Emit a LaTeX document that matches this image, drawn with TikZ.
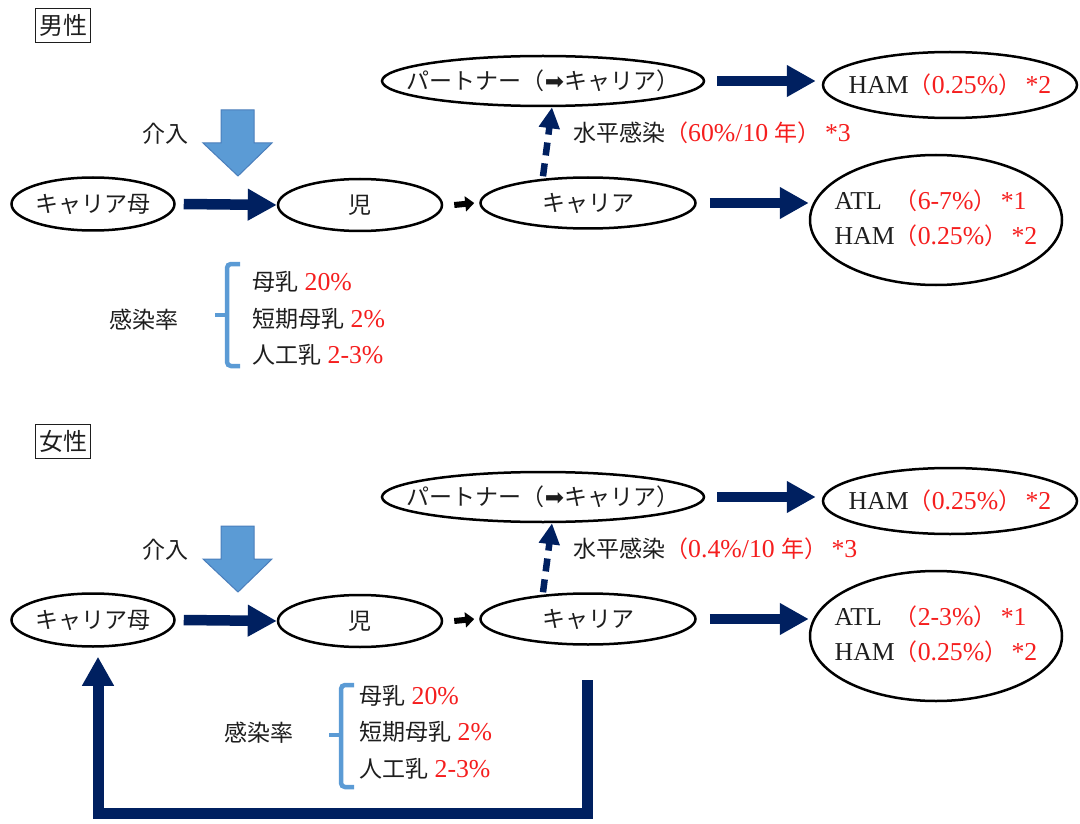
\documentclass[tikz,border=0pt]{standalone}
\usepackage{fontspec}
\setmainfont{Liberation Serif}[Scale=1.12]
\newfontfamily\jp{Noto Sans CJK JP}
\newfontfamily\sym{DejaVu Sans}
\usetikzlibrary{arrows.meta,shapes.geometric}

\definecolor{navy}{HTML}{002060}
\definecolor{lblue}{HTML}{5B9BD5}
\definecolor{bluedge}{HTML}{4A7EBB}
\definecolor{rate}{HTML}{F51E1E}
\definecolor{ink}{HTML}{1E1E1E}

\newcommand\rd[1]{\textcolor{rate}{#1}}
\newcommand\inoval[1]{\makebox[0pt]{#1}}

\begin{document}
\begin{tikzpicture}[x=1pt, y=-1pt,
  every node/.style={font=\fontsize{23}{35}\selectfont, text=ink},
  oval/.style={ellipse, draw=black, line width=2.5pt, inner sep=0pt},
  txt/.style={inner sep=0pt},
  title/.style={draw=ink, line width=1pt, inner xsep=3.5pt, inner ysep=6pt,
                font=\jp\fontsize{24}{26}\selectfont},
  bigarr/.style={draw=navy, line width=10.5pt, -{Triangle[width=30pt,length=29pt]}},
  dasharr/.style={draw=navy, line width=6.5pt, dash pattern=on 13pt off 8pt,
                  -{Triangle[width=20pt,length=21pt]}},
  smallarr/.style={draw=black, line width=6pt, -{Triangle[width=15pt,length=9pt]}},
  brace/.style={draw=lblue, line width=4.5pt, rounded corners=4pt},
  nyu/.style={fill=lblue, draw=bluedge, line width=1pt}
]
  \useasboundingbox (0,0) rectangle (1080,824);

  % male
  \node[title, anchor=north west] (male) at (35,8) {男性};
  \node[txt] (nyu1) at (165,134) {\jp 介入};
  \coordinate (down1) at (238,110);
  \draw[nyu, shift={(down1)}] (-17,0) -- (16,0) -- (16,33) -- (34,33)
    -- (0,66) -- (-35,33) -- (-17,33) -- cycle;

  \node[oval, minimum width=163pt, minimum height=53pt] (mom1)   at (93,204)  {\inoval{\jp キャリア母}};
  \node[oval, minimum width=164pt, minimum height=52pt] (child1) at (360,205) {\inoval{\jp 児}};
  \node[oval, minimum width=215pt, minimum height=51pt] (carr1)  at (588,203) {\inoval{\jp キャリア}};
  \node[oval, minimum width=322pt, minimum height=50pt] (part1)  at (543,81)  {\inoval{\jp パートナー（{\sym ➡}キャリア）}};
  \node[oval, minimum width=254pt, minimum height=66pt] (ham1)   at (950,85)
    {\inoval{HAM\rd{{\jp （}0.25\%{\jp ）}\,*2}}};
  \node[oval, minimum width=252pt, minimum height=130pt] (atl1)  at (936,220)
    {\inoval{\begin{tabular}{@{}l@{}}ATL\ \ \rd{{\jp （}6-7\%{\jp ）}\,*1}\\HAM\rd{{\jp （}0.25\%{\jp ）}\,*2}\end{tabular}}};

  \draw[bigarr] ([xshift=8pt]mom1.east) -- (child1.west);
  \draw[smallarr] ([xshift=11pt]child1.east) -- ([xshift=-5pt]carr1.west);
  \draw[bigarr] ([xshift=13pt]carr1.east) -- (carr1.east -| atl1.west);
  \draw[bigarr] ([xshift=12pt]part1.east) -- ([xshift=-6pt]part1.east -| ham1.west);
  \draw[dasharr] ([xshift=-45pt]carr1.north) -- ([xshift=9pt]part1.south);
  \node[txt, anchor=west] (hv1) at (573,133)
    {{\jp 水平感染}\rd{{\jp （}60\%/10 {\jp 年）}\,*3}};

  \node[txt] (rate1) at (144,320) {\jp 感染率};
  \draw[brace] (240,264) -- (227,264) -- (227,366) -- (240,366);
  \draw[brace] (227,315) -- (215,315);
  \node[txt, anchor=west] (milk1)  at (252,282) {{\jp 母乳} \rd{20\%}};
  \node[txt, anchor=west] (short1) at (252,319) {{\jp 短期母乳} \rd{2\%}};
  \node[txt, anchor=west] (form1)  at (252,355) {{\jp 人工乳} \rd{2-3\%}};

  % female
  \node[title, anchor=north west] (female) at (35,424) {女性};
  \node[txt] (nyu2) at (165,550) {\jp 介入};
  \coordinate (down2) at (238,526);
  \draw[nyu, shift={(down2)}] (-17,0) -- (16,0) -- (16,33) -- (34,33)
    -- (0,66) -- (-35,33) -- (-17,33) -- cycle;

  \node[oval, minimum width=163pt, minimum height=53pt] (mom2)   at (93,620)  {\inoval{\jp キャリア母}};
  \node[oval, minimum width=164pt, minimum height=52pt] (child2) at (360,621) {\inoval{\jp 児}};
  \node[oval, minimum width=215pt, minimum height=51pt] (carr2)  at (588,619) {\inoval{\jp キャリア}};
  \node[oval, minimum width=322pt, minimum height=50pt] (part2)  at (543,497) {\inoval{\jp パートナー（{\sym ➡}キャリア）}};
  \node[oval, minimum width=254pt, minimum height=66pt] (ham2)   at (950,501)
    {\inoval{HAM\rd{{\jp （}0.25\%{\jp ）}\,*2}}};
  \node[oval, minimum width=252pt, minimum height=130pt] (atl2)  at (936,636)
    {\inoval{\begin{tabular}{@{}l@{}}ATL\ \ \rd{{\jp （}2-3\%{\jp ）}\,*1}\\HAM\rd{{\jp （}0.25\%{\jp ）}\,*2}\end{tabular}}};

  \draw[bigarr] ([xshift=8pt]mom2.east) -- (child2.west);
  \draw[smallarr] ([xshift=11pt]child2.east) -- ([xshift=-5pt]carr2.west);
  \draw[bigarr] ([xshift=13pt]carr2.east) -- (carr2.east -| atl2.west);
  \draw[bigarr] ([xshift=12pt]part2.east) -- ([xshift=-6pt]part2.east -| ham2.west);
  \draw[dasharr] ([xshift=-45pt]carr2.north) -- ([xshift=9pt]part2.south);
  \node[txt, anchor=west] (hv2) at (573,549)
    {{\jp 水平感染}\rd{{\jp （}0.4\%/10 {\jp 年）}\,*3}};

  \node[txt] (rate2) at (259,733) {\jp 感染率};
  \draw[brace] (354,685) -- (341,685) -- (341,787) -- (354,787);
  \draw[brace] (341,735) -- (329,735);
  \node[txt, anchor=west] (milk2)  at (359,696) {{\jp 母乳} \rd{20\%}};
  \node[txt, anchor=west] (short2) at (359,732) {{\jp 短期母乳} \rd{2\%}};
  \node[txt, anchor=west] (form2)  at (359,769) {{\jp 人工乳} \rd{2-3\%}};

  \coordinate (loop) at (587,680);
  \draw[bigarr, line width=11pt, shorten >=9pt] (loop) -- ++(0,133) -| ([xshift=5pt]mom2.south);
\end{tikzpicture}
\end{document}
